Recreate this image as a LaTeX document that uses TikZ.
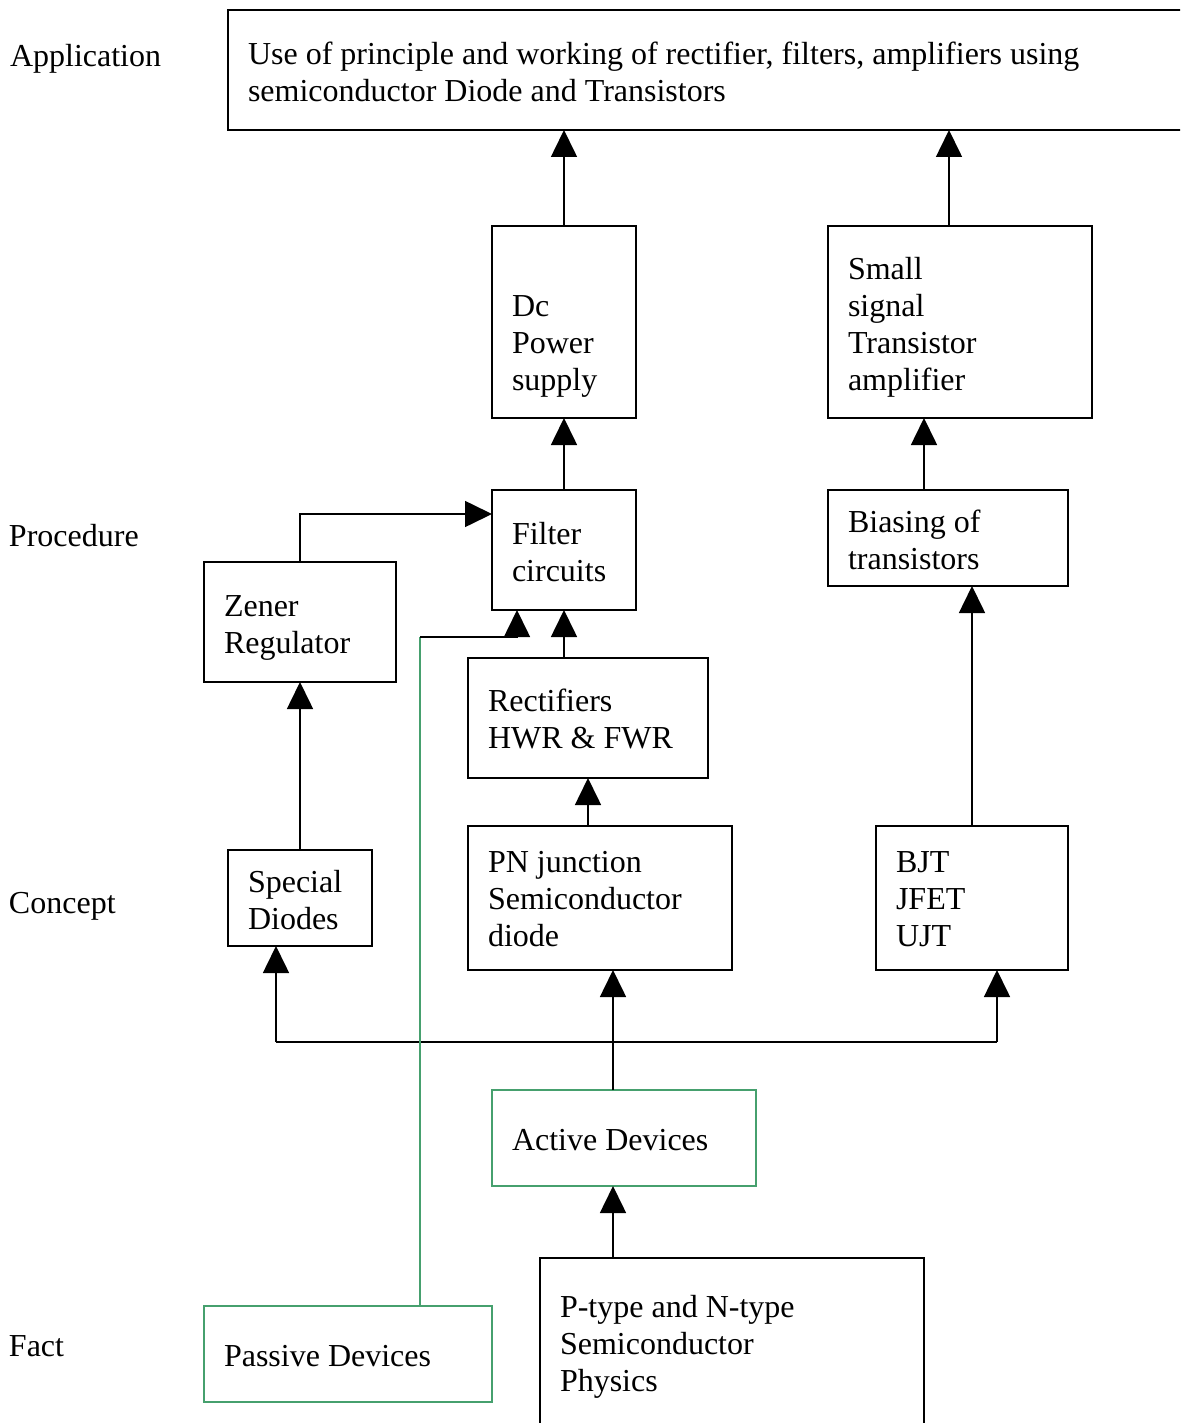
\documentclass[tikz,border=0pt]{standalone}
\usepackage{fontspec}
\setmainfont{Liberation Serif}
\usetikzlibrary{arrows.meta}
\definecolor{grn}{RGB}{70,160,110}
\newcommand\mlines[1]{\begin{tabular}[t]{@{}l@{}}#1\end{tabular}}
\begin{document}
\begin{tikzpicture}[x=1pt,y=-1pt,
  box/.style={draw, line width=1.6pt, anchor=north west, inner sep=0pt, outer sep=0pt},
  gbox/.style={box, draw=grn},
  txt/.style={anchor=base west, inner sep=0pt, outer sep=0pt, font=\fontsize{32}{37}\selectfont},
  lin/.style={line width=1.6pt},
  arr/.style={line width=1.6pt, -{Triangle[length=27pt,width=26pt]}}]
\clip (0,0) rectangle (1180,1423);
\useasboundingbox (0,0) rectangle (1180,1423);

% level labels
\node[txt] (lapp) at (10,67) {Application};
\node[txt] (lproc) at (9,546) {Procedure};
\node[txt] (lcon) at (9,913) {Concept};
\node[txt] (lfact) at (9,1356) {Fact};

% boxes
\node[box, minimum width=980pt, minimum height=120pt] (top) at (228,10) {};
\node[box, minimum width=144pt, minimum height=192pt] (dc) at (492,226) {};
\node[box, minimum width=264pt, minimum height=192pt] (ss) at (828,226) {};
\node[box, minimum width=144pt, minimum height=120pt] (filt) at (492,490) {};
\node[box, minimum width=240pt, minimum height=96pt] (bias) at (828,490) {};
\node[box, minimum width=192pt, minimum height=120pt] (zen) at (204,562) {};
\node[box, minimum width=240pt, minimum height=120pt] (rect) at (468,658) {};
\node[box, minimum width=264pt, minimum height=144pt] (pn) at (468,826) {};
\node[box, minimum width=144pt, minimum height=96pt] (sd) at (228,850) {};
\node[box, minimum width=192pt, minimum height=144pt] (bjt) at (876,826) {};
\node[gbox, minimum width=264pt, minimum height=96pt] (act) at (492,1090) {};
\node[box, minimum width=384pt, minimum height=220pt] (pt) at (540,1258) {};
\node[gbox, minimum width=288pt, minimum height=96pt] (pas) at (204,1306) {};

% texts
\node[txt] (topt) at (248,65) {\mlines{Use of principle and working of rectifier, filters, amplifiers using\\semiconductor Diode and Transistors}};
\node[txt] (dct) at (512,316) {\mlines{Dc\\Power\\supply}};
\node[txt] (sst) at (848,279) {\mlines{Small\\signal\\Transistor\\amplifier}};
\node[txt] (filtt) at (512,544) {\mlines{Filter\\circuits}};
\node[txt] (biast) at (848,532) {\mlines{Biasing of\\transistors}};
\node[txt] (zent) at (224,616) {\mlines{Zener\\Regulator}};
\node[txt] (rectt) at (488,711) {\mlines{Rectifiers\\HWR \& FWR}};
\node[txt] (pnt) at (488,872) {\mlines{PN junction\\Semiconductor\\diode}};
\node[txt] (sdt) at (248,892) {\mlines{Special\\Diodes}};
\node[txt] (bjtt) at (896,872) {\mlines{BJT\\JFET\\UJT}};
\node[txt] (actt) at (512,1150) {Active Devices};
\node[txt] (ptt) at (560,1317) {\mlines{P-type and N-type\\Semiconductor\\Physics}};
\node[txt] (past) at (224,1366) {Passive Devices};

% connectors
\draw[arr] (dc.north) -- (dc.north |- top.south);
\draw[arr] ([xshift=-11pt]ss.north) -- ([xshift=-11pt]ss.north |- top.south);
\draw[arr] (filt.north) -- (dc.south);
\draw[arr] ([xshift=-24pt]bias.north) -- ([xshift=-24pt]bias.north |- ss.south);
\draw[arr] (zen.north) |- ([yshift=-24pt]filt.north west);
\draw[arr] (filt.south |- rect.north) -- (filt.south);
\draw[arr] (rect.south |- pn.north) -- (rect.south);
\draw[arr] (sd.north) -- (zen.south);
\draw[arr] (bjt.north) -- (bjt.north |- bias.south);

\coordinate (busL) at (276,1042);
\coordinate (busR) at (997,1042);
\coordinate (busM) at (613,1042);
\draw[lin] (busL) -- (busR);
\draw[arr] (busL) -- (busL |- sd.south);
\draw[arr] (busR) -- (busR |- bjt.south);
\draw[arr] (busM |- act.north) -- (busM |- pn.south);
\draw[arr] (busM |- pt.north) -- (busM |- act.south);

\coordinate (pk) at (420,637);
\coordinate (pe) at (517,637);
\draw[lin, draw=grn] (pas.north -| pk) -- (pk);
\draw[lin] (pk) -- (pe);
\draw[arr] (pe) -- (pe |- filt.south);
\end{tikzpicture}
\end{document}
